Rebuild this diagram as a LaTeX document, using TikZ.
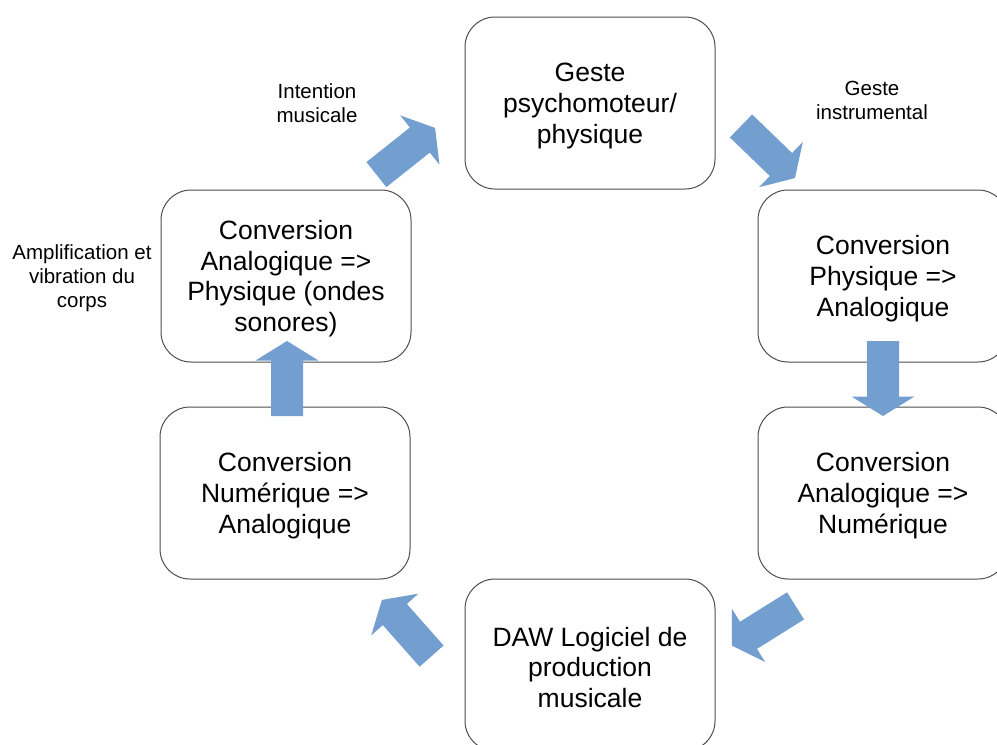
\documentclass[tikz,border=0pt]{standalone}
\usepackage{fontspec}
\setmainfont{Liberation Sans}
\definecolor{boxgray}{HTML}{4D4D4D}
\definecolor{arrowblue}{HTML}{729FCF}
\tikzset{
  box/.style={draw=boxgray, line width=1pt, rounded corners=30pt, minimum width=250pt,
    minimum height=172pt, inner sep=0pt},
  txt/.style={align=center, inner sep=0pt, font=\fontsize{26.5}{30.7}\selectfont},
  lbl/.style={align=center, inner sep=0pt, font=\fontsize{20.5}{24}\selectfont},
  pics/blockarrow/.style={code={
    \fill[arrowblue] (-37.5,-16) -- (18,-16) -- (18,-31.5) -- (37.5,0) -- (18,31.5)
      -- (18,16) -- (-37.5,16) -- cycle;}}
}
\begin{document}
\begin{tikzpicture}[x=1pt,y=-1pt]
\useasboundingbox (0,0) rectangle (997,745);
\clip (0,0) rectangle (997,745);
% boxes
\node[box] (geste) at (590,103) {};
\node[box] (pa) at (883,276) {};
\node[box] (an) at (883,493) {};
\node[box] (daw) at (590,665) {};
\node[box] (na) at (285,493) {};
\node[box] (ap) at (286,276) {};
% box texts
\node[txt] (gestet) at ([yshift=-3pt]geste.center) {Geste\\psychomoteur/\\physique};
\node[txt] (pat) at ([yshift=-2.5pt]pa.center) {Conversion\\Physique =>\\Analogique};
\node[txt] (ant) at ([yshift=-2.5pt]an.center) {Conversion\\Analogique =>\\Numérique};
\node[txt] (dawt) at ([yshift=-2.5pt]daw.center) {DAW Logiciel de\\production\\musicale};
\node[txt] (nat) at ([yshift=-2.5pt]na.center) {Conversion\\Numérique =>\\Analogique};
\node[txt] (apt) at ([yshift=-2.5pt]ap.center) {Conversion\\Analogique =>\\Physique (ondes\\sonores)};
% block arrows
\coordinate (a1) at (405.75,151.25);
\coordinate (a2) at (768,152);
\coordinate (a3) at (883,378.5);
\coordinate (a4) at (763.75,625.75);
\coordinate (a5) at (406.75,628);
\coordinate (a6) at (287,378.5);
\pic[rotate=38.5] at (a1) {blockarrow};
\pic[rotate=-44] at (a2) {blockarrow};
\pic[rotate=-90] at (a3) {blockarrow};
\pic[rotate=212] at (a4) {blockarrow};
\pic[rotate=131.5] at (a5) {blockarrow};
\pic[rotate=90] at (a6) {blockarrow};
% labels
\node[lbl] (l1) at (317,103) {Intention\\musicale};
\node[lbl] (l2) at (872,100) {Geste\\instrumental};
\node[lbl] (l3) at (82,278) {Amplification et\\vibration du\\corps};
\end{tikzpicture}
\end{document}
